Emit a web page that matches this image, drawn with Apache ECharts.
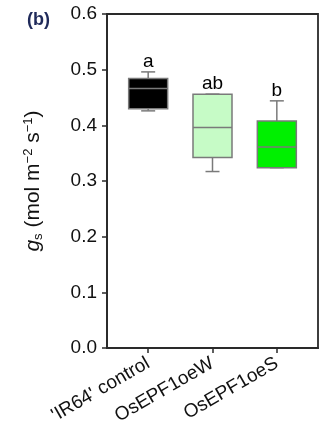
<!DOCTYPE html>
<html>
<head>
<meta charset="utf-8">
<script src="https://cdn.jsdelivr.net/npm/echarts@6/dist/echarts.min.js"></script>
<style>
  html, body { margin: 0; padding: 0; background: #fff; }
  #chart { width: 324px; height: 437px; }
</style>
</head>
<body>
<div id="chart"></div>
<script>
// groups and box statistics
const categories = ["'IR64' control", 'OsEPF1oeW', 'OsEPF1oeS'];
const lowWhisker = [0.426, 0.317, 0.324];
const q1 = [0.430, 0.342, 0.324];
const medians = [0.466, 0.396, 0.361];
const q3 = [0.484, 0.456, 0.408];
const highWhisker = [0.496, 0.456, 0.444];
const letters = ['a', 'ab', 'b'];
const fills = ['#000000', '#c6fbc6', '#00f000'];
const yTicks = [0, 0.1, 0.2, 0.3, 0.4, 0.5, 0.6];

const boxData = categories.map((c, i) => [i + 1, lowWhisker[i], q1[i], medians[i], q3[i], highWhisker[i]]);

const chart = echarts.init(document.getElementById('chart'));

const FONT = '"Liberation Sans", Arial, sans-serif';
const BOX_W = 39;   // px
const CAP_W = 14;   // px
const EDGE = '#7a7a7a';

function renderBox(params, api) {
  const i = params.dataIndex;
  const x = api.value(0);
  const pLo = api.coord([x, api.value(1)]);
  const pQ1 = api.coord([x, api.value(2)]);
  const pMed = api.coord([x, api.value(3)]);
  const pQ3 = api.coord([x, api.value(4)]);
  const pHi = api.coord([x, api.value(5)]);
  const cx = pMed[0];
  const line = { stroke: EDGE, lineWidth: 1.5 };
  return {
    type: 'group',
    children: [
      { type: 'line', shape: { x1: cx, y1: pHi[1], x2: cx, y2: pQ3[1] }, style: line },
      { type: 'line', shape: { x1: cx - CAP_W / 2, y1: pHi[1], x2: cx + CAP_W / 2, y2: pHi[1] }, style: line },
      { type: 'line', shape: { x1: cx, y1: pQ1[1], x2: cx, y2: pLo[1] }, style: line },
      { type: 'line', shape: { x1: cx - CAP_W / 2, y1: pLo[1], x2: cx + CAP_W / 2, y2: pLo[1] }, style: line },
      { type: 'rect', shape: { x: cx - BOX_W / 2, y: pQ3[1], width: BOX_W, height: pQ1[1] - pQ3[1] },
        style: { fill: fills[i], stroke: EDGE, lineWidth: 1.5 } },
      { type: 'line', shape: { x1: cx - BOX_W / 2, y1: pMed[1], x2: cx + BOX_W / 2, y2: pMed[1] }, style: line },
      { type: 'text', x: cx, y: pHi[1] - 1,
        style: { text: letters[i], fill: '#000', font: '19px ' + FONT,
                 align: 'center', verticalAlign: 'bottom' } }
    ]
  };
}

const option = {
  backgroundColor: '#fff',
  animation: false,
  grid: { left: 107, right: 6, top: 14, bottom: 89, show: true, borderColor: '#2a2a2a', borderWidth: 1.8, backgroundColor: 'transparent' },
  graphic: [{
    type: 'text', left: 27, top: 11,
    style: { text: '(b)', fill: '#1f2a5a', font: 'bold 18px ' + FONT }
  }],
  xAxis: {
    type: 'value',
    min: 0.36,
    max: 3.64,
    splitLine: { show: false },
    axisLine: { show: true, onZero: false, lineStyle: { color: '#2a2a2a', width: 1.8 } },
    axisTick: { show: true, length: 5, customValues: [1, 2, 3], lineStyle: { color: '#2a2a2a', width: 1.5 } },
    axisLabel: {
      customValues: [1, 2, 3],
      rotate: 30,
      margin: 14,
      color: '#111',
      fontSize: 19,
      fontFamily: FONT,
      formatter: (v) => categories[Math.round(v) - 1] || ''
    }
  },
  yAxis: {
    type: 'value',
    min: 0,
    max: 0.6,
    interval: 0.1,
    splitLine: { show: false },
    axisLine: { show: true, lineStyle: { color: '#2a2a2a', width: 1.8 } },
    axisTick: { show: true, length: 5, lineStyle: { color: '#2a2a2a', width: 1.5 } },
    axisLabel: {
      margin: 10,
      color: '#111',
      fontSize: 19,
      fontFamily: FONT,
      formatter: (v) => yTicks.indexOf(Math.round(v * 10) / 10) >= 0 ? v.toFixed(1) : ''
    },
    name: '{g|g}{sub|s}{t| (mol m}{sup|\u22122}{t| s}{sup|\u22121}{t|)}',
    nameLocation: 'middle',
    nameRotate: 90,
    nameGap: 62,
    nameTextStyle: {
      rich: {
        g: { fontSize: 21, fontStyle: 'italic', fontFamily: FONT, color: '#111', lineHeight: 24 },
        t: { fontSize: 21, fontFamily: FONT, color: '#111', lineHeight: 24 },
        sub: { fontSize: 13, fontFamily: FONT, color: '#111', padding: [10, 0, 0, 0], lineHeight: 24 },
        sup: { fontSize: 13, fontFamily: FONT, color: '#111', padding: [0, 0, 10, 0], lineHeight: 24 }
      }
    }
  },
  series: [{
    type: 'custom',
    renderItem: renderBox,
    encode: { x: 0, y: [1, 2, 3, 4, 5] },
    data: boxData,
    clip: false
  }]
};

chart.setOption(option);
</script>
</body>
</html>
